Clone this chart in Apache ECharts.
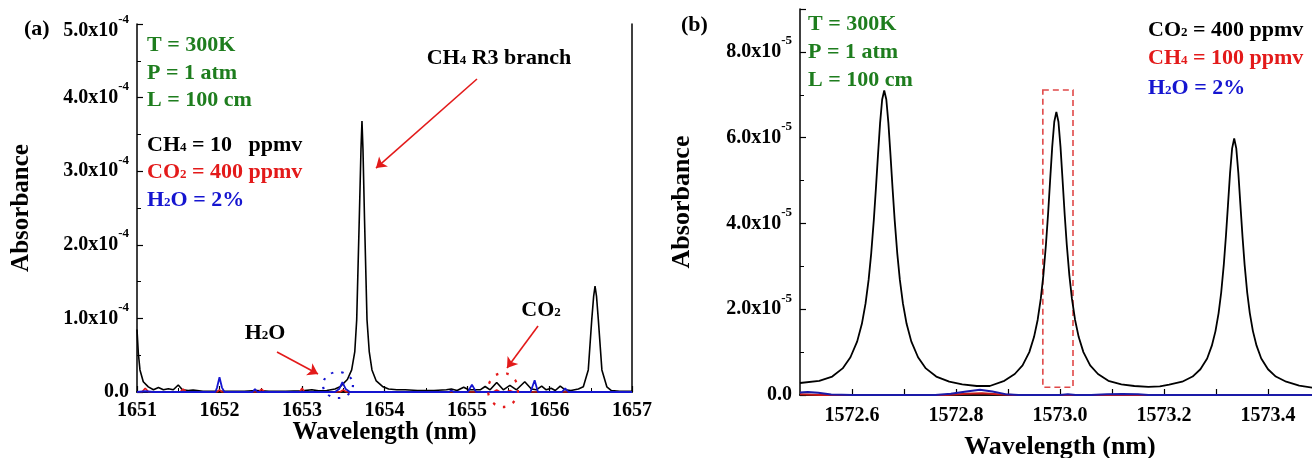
<!DOCTYPE html>
<html><head><meta charset="utf-8">
<script src="https://cdn.jsdelivr.net/npm/echarts@6/dist/echarts.min.js"></script>
<style>html,body{margin:0;padding:0;background:#fff}#c{width:1312px;height:458px}</style>
</head><body><div id="c"></div>
<script>
const FONT = '"Liberation Serif","Times New Roman",serif';
const BLACK = '#000000', RED = '#e31a1a', BLUE = '#1515d0', GREEN = '#1e7d1e';

// ---------- Panel (a): 1651–1657 nm ----------
const aCH4 = [
[1651.000,0.85e-4],[1651.016,0.53e-4],[1651.036,0.30e-4],[1651.076,0.14e-4],[1651.137,0.07e-4],
[1651.200,0.03e-4],[1651.260,0.06e-4],[1651.320,0.03e-4],[1651.380,0.045e-4],[1651.440,0.03e-4],
[1651.500,0.095e-4],[1651.550,0.03e-4],[1651.620,0.02e-4],[1651.680,0.025e-4],[1651.800,0.01e-4],
[1651.900,0.01e-4],[1652.100,0.01e-4],[1652.300,0.01e-4],[1652.450,0.02e-4],[1652.600,0.01e-4],
[1652.800,0.01e-4],[1653.000,0.015e-4],[1653.120,0.03e-4],[1653.200,0.015e-4],[1653.300,0.02e-4],
[1653.400,0.04e-4],[1653.461,0.07e-4],[1653.550,0.17e-4],[1653.602,0.30e-4],[1653.640,0.55e-4],
[1653.663,0.98e-4],[1653.694,2.34e-4],[1653.715,3.30e-4],[1653.727,3.68e-4],[1653.739,3.30e-4],
[1653.758,2.34e-4],[1653.788,0.98e-4],[1653.815,0.55e-4],[1653.848,0.30e-4],[1653.900,0.15e-4],
[1653.982,0.07e-4],[1654.050,0.04e-4],[1654.150,0.03e-4],[1654.250,0.03e-4],[1654.400,0.02e-4],
[1654.600,0.02e-4],[1654.750,0.03e-4],[1654.810,0.04e-4],[1654.880,0.02e-4],[1654.960,0.065e-4],
[1655.020,0.03e-4],[1655.100,0.03e-4],[1655.160,0.03e-4],[1655.220,0.075e-4],[1655.280,0.03e-4],
[1655.360,0.13e-4],[1655.440,0.03e-4],[1655.520,0.09e-4],[1655.600,0.03e-4],[1655.700,0.14e-4],
[1655.780,0.04e-4],[1655.840,0.03e-4],[1655.905,0.08e-4],[1655.960,0.03e-4],[1656.020,0.05e-4],
[1656.070,0.02e-4],[1656.130,0.08e-4],[1656.190,0.03e-4],[1656.260,0.02e-4],[1656.350,0.04e-4],
[1656.410,0.07e-4],[1656.470,0.30e-4],[1656.512,0.98e-4],[1656.535,1.30e-4],[1656.552,1.44e-4],
[1656.570,1.30e-4],[1656.592,0.98e-4],[1656.635,0.30e-4],[1656.695,0.07e-4],[1656.750,0.02e-4],
[1656.850,0.01e-4],[1657.000,0.01e-4]];
const aCO2 = [
[1651.000,0],[1651.060,0],[1651.100,0.05e-4],[1651.140,0],[1651.520,0],[1651.560,0.04e-4],[1651.600,0],
[1651.970,0],[1652.000,0.03e-4],[1652.030,0],[1652.470,0],[1652.510,0.04e-4],[1652.550,0],
[1652.970,0],[1653.000,0.05e-4],[1653.030,0],[1653.460,0],[1653.500,0.03e-4],[1653.540,0],
[1655.320,0],[1655.360,0.03e-4],[1655.400,0],[1655.480,0],[1655.520,0.02e-4],[1655.560,0],[1657.000,0]];
const aH2O = [
[1651.000,0],[1651.100,0.01e-4],[1651.200,0],[1651.950,0],[1651.970,0.06e-4],[1652.000,0.20e-4],
[1652.030,0.06e-4],[1652.060,0],[1652.400,0],[1652.430,0.04e-4],[1652.460,0],[1653.400,0],
[1653.450,0.04e-4],[1653.490,0.135e-4],[1653.530,0.04e-4],[1653.580,0],[1654.780,0],[1654.810,0.02e-4],
[1654.840,0],[1655.010,0],[1655.060,0.10e-4],[1655.110,0],[1655.770,0],[1655.820,0.16e-4],[1655.860,0],
[1656.150,0],[1656.190,0.05e-4],[1656.230,0],[1657.000,0]];
const aLegend = [
  {t:'T = 300K', c:GREEN}, {t:'P = 1 atm', c:GREEN}, {t:'L = 100 cm', c:GREEN},
  {t:'CH{s|4} = 10   ppmv', c:BLACK}, {t:'CO{s|2} = 400 ppmv', c:RED}, {t:'H{s|2}O = 2%', c:BLUE}];
const aNotes = [
  {t:'CH{s|4} R3 branch', at:[1655.388,4.54e-4]},
  {t:'H{s|2}O', at:[1652.552,0.80e-4]},
  {t:'CO{s|2}', at:[1655.897,1.114e-4]}];
const aArrows = [
  [[1655.121,4.253e-4],[1653.897,3.043e-4]],
  [[1652.697,0.543e-4],[1653.194,0.245e-4]],
  [[1655.861,0.897e-4],[1655.485,0.326e-4]]];
const aRings = [
  {at:[1653.436,0.095e-4], rx:15, ry:13, c:BLUE},
  {at:[1655.436,0.027e-4], rx:15, ry:17, c:RED}];

// ---------- Panel (b): 1572.5–1573.5 nm ----------
const bCO2 = [
[1572.500,0.28e-5],[1572.537,0.33e-5],[1572.562,0.43e-5],[1572.582,0.62e-5],[1572.597,0.88e-5],
[1572.610,1.25e-5],[1572.619,1.66e-5],[1572.626,2.13e-5],[1572.632,2.69e-5],[1572.637,3.31e-5],
[1572.642,4.09e-5],[1572.646,4.82e-5],[1572.650,5.60e-5],[1572.654,6.34e-5],[1572.658,6.89e-5],
[1572.662,7.10e-5],[1572.666,6.89e-5],[1572.670,6.34e-5],[1572.674,5.60e-5],[1572.678,4.82e-5],
[1572.682,4.09e-5],[1572.687,3.31e-5],[1572.692,2.69e-5],[1572.698,2.13e-5],[1572.705,1.66e-5],
[1572.714,1.25e-5],[1572.727,0.88e-5],[1572.742,0.62e-5],[1572.762,0.43e-5],[1572.787,0.31e-5],
[1572.812,0.25e-5],[1572.840,0.21e-5],[1572.865,0.21e-5],
[1572.893,0.33e-5],[1572.913,0.49e-5],[1572.928,0.69e-5],[1572.941,1.00e-5],[1572.950,1.35e-5],
[1572.957,1.75e-5],[1572.963,2.24e-5],[1572.968,2.79e-5],[1572.973,3.51e-5],[1572.977,4.21e-5],
[1572.981,5.00e-5],[1572.985,5.78e-5],[1572.989,6.37e-5],[1572.993,6.60e-5],[1572.997,6.37e-5],
[1573.001,5.78e-5],[1573.005,5.00e-5],[1573.009,4.21e-5],[1573.013,3.51e-5],[1573.018,2.79e-5],
[1573.023,2.24e-5],[1573.029,1.75e-5],[1573.036,1.35e-5],[1573.045,1.00e-5],[1573.058,0.69e-5],
[1573.073,0.49e-5],[1573.093,0.33e-5],[1573.118,0.25e-5],[1573.143,0.21e-5],[1573.170,0.19e-5],
[1573.192,0.20e-5],
[1573.210,0.24e-5],[1573.235,0.31e-5],[1573.255,0.43e-5],[1573.270,0.60e-5],[1573.283,0.85e-5],
[1573.292,1.15e-5],[1573.299,1.49e-5],[1573.305,1.91e-5],[1573.310,2.39e-5],[1573.315,3.04e-5],
[1573.319,3.69e-5],[1573.323,4.42e-5],[1573.327,5.17e-5],[1573.331,5.75e-5],[1573.335,5.98e-5],
[1573.339,5.75e-5],[1573.343,5.17e-5],[1573.347,4.42e-5],[1573.351,3.69e-5],[1573.355,3.04e-5],
[1573.360,2.39e-5],[1573.365,1.91e-5],[1573.371,1.49e-5],[1573.378,1.15e-5],[1573.387,0.85e-5],
[1573.400,0.60e-5],[1573.415,0.43e-5],[1573.435,0.31e-5],[1573.460,0.22e-5],[1573.485,0.17e-5],
[1573.500,0.15e-5]];
const bCH4 = [
[1572.500,0.02e-5],[1572.540,0],[1572.780,0],[1572.820,0.03e-5],[1572.850,0.04e-5],[1572.880,0.02e-5],
[1572.910,0],[1573.500,0]];
const bH2O = [
[1572.500,0.06e-5],[1572.515,0.07e-5],[1572.535,0.05e-5],[1572.560,0.01e-5],[1572.600,0],[1572.760,0],
[1572.790,0.03e-5],[1572.820,0.08e-5],[1572.846,0.12e-5],[1572.870,0.08e-5],[1572.895,0.02e-5],
[1572.920,0],[1573.000,0],[1573.015,0.02e-5],[1573.030,0],[1573.060,0],[1573.090,0.02e-5],
[1573.120,0.025e-5],[1573.150,0.02e-5],[1573.170,0],[1573.500,0]];
const bBox = [[1572.967,7.11e-5],[1573.025,0.18e-5]];
const bLegendL = [{t:'T = 300K', c:GREEN}, {t:'P = 1 atm', c:GREEN}, {t:'L = 100 cm', c:GREEN}];
const bLegendR = [{t:'CO{s|2} = 400 ppmv', c:BLACK}, {t:'CH{s|4} = 100 ppmv', c:RED}, {t:'H{s|2}O = 2%', c:BLUE}];

// ---------- helpers ----------
const lbl = {color:'#000', fontFamily:FONT, fontWeight:'bold', fontSize:20};
const richY = {
  m:{fontFamily:FONT, fontWeight:'bold', fontSize:20, color:'#000'},
  s:{fontFamily:FONT, fontWeight:'bold', fontSize:13, color:'#000', padding:[0,0,22,0]},
  m2:{fontFamily:FONT, fontWeight:'bold', fontSize:20, color:'#000', padding:[14,0,0,0]},
  s2:{fontFamily:FONT, fontWeight:'bold', fontSize:13, color:'#000', padding:[14,0,22,0]}
};
function yFmt(exp, topVal) {
  return function (v) {
    if (Math.abs(v) < 1e-12) return '{m|0.0}';
    const s = (v * Math.pow(10, exp)).toFixed(1);
    if (topVal !== undefined && Math.abs(v - topVal) < 1e-12) return '{m2|' + s + 'x10}{s2|-' + exp + '}';
    return '{m|' + s + 'x10}{s|-' + exp + '}';
  };
}
const axLine = {show:true, lineStyle:{color:'#000', width:1.5}};
const nameStyle = sz => ({color:'#000', fontFamily:FONT, fontWeight:'bold', fontSize:sz});
function frameX(g) {
  return {type:'value', gridIndex:g, position:'top', axisLine:axLine, axisTick:{show:false},
          axisLabel:{show:false}, splitLine:{show:false}};
}
function frameY(g) {
  return {type:'value', gridIndex:g, position:'right', axisLine:axLine, axisTick:{show:false},
          axisLabel:{show:false}, splitLine:{show:false}};
}

const option = {
  animation:false,
  backgroundColor:'#fff',
  grid:[
    {left:137, top:24, width:495, height:368, outerBoundsMode:'none', containLabel:false},
    {left:800, top:9, width:520, height:386, outerBoundsMode:'none', containLabel:false}
  ],
  xAxis:[
    {type:'value', gridIndex:0, min:1651, max:1657, interval:1,
     axisLine:axLine, axisTick:{inside:true, length:6, lineStyle:{color:'#000', width:1.2}},
     minorTick:{show:true, splitNumber:2, length:4, lineStyle:{color:'#000', width:1}},
     splitLine:{show:false}, axisLabel:Object.assign({margin:9, formatter: v => String(Math.round(v))}, lbl),
     name:'Wavelength (nm)', nameLocation:'middle', nameGap:28, nameMoveOverlap:false, nameTextStyle:nameStyle(25)},
    Object.assign(frameX(0), {min:1651, max:1657}),
    {type:'value', gridIndex:1, min:1572.5, max:1573.5, interval:0.1,
     axisLine:axLine, axisTick:{inside:true, length:6, lineStyle:{color:'#000', width:1.2}},
     splitLine:{show:false},
     axisLabel:Object.assign({margin:11, showMinLabel:false, showMaxLabel:false,
       formatter: v => (Math.round(v * 10) % 2 === 0 ? v.toFixed(1) : '')}, lbl),
     name:'Wavelength (nm)', nameLocation:'middle', nameGap:39, nameMoveOverlap:false, nameTextStyle:nameStyle(26)},
    Object.assign(frameX(1), {min:1572.5, max:1573.5})
  ],
  yAxis:[
    {type:'value', gridIndex:0, min:0, max:5e-4, interval:1e-4,
     axisLine:axLine, axisTick:{inside:true, length:6, lineStyle:{color:'#000', width:1.2}},
     minorTick:{show:true, splitNumber:2, length:4, lineStyle:{color:'#000', width:1}},
     splitLine:{show:false},
     axisLabel:{margin:8, formatter:yFmt(4, 5e-4), rich:richY},
     name:'Absorbance', nameLocation:'middle', nameRotate:90, nameGap:103, nameTextStyle:nameStyle(25)},
    Object.assign(frameY(0), {min:0, max:5e-4}),
    {type:'value', gridIndex:1, min:0, max:9e-5, interval:2e-5,
     axisLine:axLine, axisTick:{inside:true, length:6, lineStyle:{color:'#000', width:1.2}},
     minorTick:{show:true, splitNumber:2, length:4, lineStyle:{color:'#000', width:1}},
     splitLine:{show:false},
     axisLabel:{margin:8, showMaxLabel:false, formatter:yFmt(5), rich:richY},
     name:'Absorbance', nameLocation:'middle', nameRotate:90, nameGap:105, nameTextStyle:nameStyle(26)},
    Object.assign(frameY(1), {min:0, max:9e-5})
  ],
  series:[
    {type:'line', xAxisIndex:0, yAxisIndex:0, data:aCH4, symbol:'none', lineStyle:{color:BLACK, width:1.6}, z:3,
     markLine:{silent:true, symbol:['none','arrow'], symbolSize:10, label:{show:false},
       lineStyle:{color:RED, width:1.6, type:'solid'}, itemStyle:{color:RED},
       data: aArrows.map(a => [{coord:a[0]}, {coord:a[1]}])}},
    {type:'line', xAxisIndex:0, yAxisIndex:0, data:aCO2, symbol:'none', lineStyle:{color:RED, width:1.6}, z:4},
    {type:'line', xAxisIndex:0, yAxisIndex:0, data:aH2O, symbol:'none', lineStyle:{color:BLUE, width:1.8}, z:5},
    {type:'line', xAxisIndex:2, yAxisIndex:2, data:bCO2, symbol:'none', lineStyle:{color:BLACK, width:1.8}, z:3,
     markArea:{silent:true, itemStyle:{color:'rgba(0,0,0,0)', borderColor:'#e04848', borderWidth:1.6, borderType:[6,4]},
       data:[[{coord:bBox[0]}, {coord:bBox[1]}]]}},
    {type:'line', xAxisIndex:2, yAxisIndex:2, data:bCH4, symbol:'none', lineStyle:{color:'#c81818', width:2}, z:4},
    {type:'line', xAxisIndex:2, yAxisIndex:2, data:bH2O, symbol:'none', lineStyle:{color:'#1a1aa8', width:2}, z:5}
  ]
};

const chart = echarts.init(document.getElementById('c'));
chart.setOption(option);

function txt(text, x, y, color, size, align) {
  return {type:'text', z:50, style:{text:text, x:x, y:y, fill:color, fontFamily:FONT, fontWeight:'bold',
    fontSize:size, align:align || 'left', textAlign:align || 'left', verticalAlign:'middle', textVerticalAlign:'middle',
    rich:{s:{fontFamily:FONT, fontWeight:'bold', fontSize:13, fill:color, verticalAlign:'bottom', padding:[0,0,2,0]}}}};
}
const g = [];
g.push(txt('(a)', 24, 29, '#000', 22));
g.push(txt('(b)', 681, 25, '#000', 22));
const aRows = [45, 73, 100, 145, 172, 200];
aLegend.forEach((it, i) => g.push(txt(it.t, 147, aRows[i], it.c, 22)));
const bRowsL = [24, 52, 80];
bLegendL.forEach((it, i) => g.push(txt(it.t, 808, bRowsL[i], it.c, 22)));
const bRowsR = [30, 58, 88];
bLegendR.forEach((it, i) => g.push(txt(it.t, 1148, bRowsR[i], it.c, 22)));
aNotes.forEach(n => {
  const p = chart.convertToPixel({xAxisIndex:0, yAxisIndex:0}, n.at);
  g.push(txt(n.t, p[0], p[1], '#000', 22, 'center'));
});
aRings.forEach(r => {
  const p = chart.convertToPixel({xAxisIndex:0, yAxisIndex:0}, r.at);
  g.push({type:'circle', z:40, x:p[0], y:p[1], scaleY:r.ry / r.rx, shape:{cx:0, cy:0, r:r.rx},
    style:{fill:'none', stroke:r.c, lineWidth:2.2, lineDash:[2.5, 8]}});
});
chart.setOption({graphic:g});
</script>
</body></html>
